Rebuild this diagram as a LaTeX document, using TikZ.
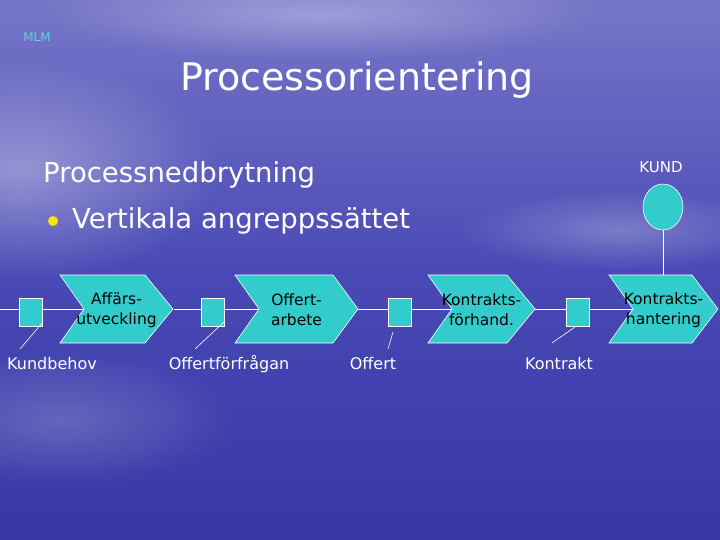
\documentclass[tikz,border=0pt]{standalone}
\usepackage{fontspec}
\setmainfont{DejaVu Sans}
\usetikzlibrary{shapes.geometric,shadings,fadings}
\definecolor{turq}{HTML}{33CCCC}
\definecolor{bgtop}{HTML}{7676C8}
\definecolor{bgmid}{HTML}{4A4AB6}
\definecolor{bgbot}{HTML}{3636A6}
\tikzfading[name=softglow, inner color=transparent!0, outer color=transparent!100]
\tikzset{
  chev/.style={draw=white, line width=0.6pt, fill=turq},
  evbox/.style={draw=white, line width=0.6pt, fill=turq, minimum width=23pt, minimum height=28pt, inner sep=0pt},
  conn/.style={draw=white, line width=0.6pt},
  chevtext/.style={font=\fontsize{15.5}{20}\selectfont, text=black, align=center},
  evlabel/.style={font=\fontsize{16}{19}\selectfont, text=white},
  cloud/.style={fill=white, path fading=softglow},
}
\begin{document}
\begin{tikzpicture}[x=1pt,y=-1pt]
\useasboundingbox (0,0) rectangle (720,540);
% background
\shade[top color=bgtop, bottom color=bgbot, middle color=bgmid] (0,0) rectangle (720,540);
\fill[cloud, opacity=0.35] (20,170) ellipse (200 and 110);
\fill[cloud, opacity=0.30] (320,15) ellipse (280 and 45);
\fill[cloud, opacity=0.25] (620,230) ellipse (160 and 40);
\fill[cloud, opacity=0.20] (60,420) ellipse (180 and 70);
% texts
\node[font=\fontsize{12}{14}\selectfont, text=turq!80!white] (mlm) at (37,37) {MLM};
\node[font=\fontsize{38}{44}\selectfont, text=white] (title) at (357,80) {Processorientering};
\node[font=\fontsize{27.5}{32}\selectfont, text=white, anchor=west, inner sep=0pt] (pn) at (43,175) {Processnedbrytning};
\fill[yellow!85!orange] (53,221) circle (5);
\node[font=\fontsize{27.5}{32}\selectfont, text=white, anchor=west, inner sep=0pt] (va) at (72,221) {Vertikala angreppssättet};
\node[font=\fontsize{15}{17}\selectfont, text=white] (kundt) at (661,167) {KUND};
\node[ellipse, draw=white, line width=0.6pt, fill=turq, minimum width=40pt, minimum height=46pt, inner sep=0pt] (kund) at (663,207) {};
% chevrons
\newcommand{\mychev}[5]{% name, left, topright, tip, text
  \draw[chev] (#2,275) -- (#3,275) -- (#4,309) -- (#3,343) -- (#2,343) -- (#2+24,309) -- cycle;
  \coordinate (#1in) at (#2+24,309);
  \coordinate (#1out) at (#4,309);
  \coordinate (#1top) at ({(#2+#3)/2},275);
  \node[chevtext] (#1t) at ({(#2+#4)/2},310) {#5};
}
\coordinate (start) at (0,309);
\node[evbox] (e1) at (30.5,312) {};
\node[evbox] (e2) at (212.5,312) {};
\node[evbox] (e3) at (400,312) {};
\node[evbox] (e4) at (578,312) {};
\draw[conn] (start) -- (e1.west |- start);
\draw[conn] (e1.east |- start) -- (85,309);
\draw[conn] (174,309) -- (e2.west |- start);
\draw[conn] (e2.east |- start) -- (260,309);
\draw[conn] (358,309) -- (e3.west |- start);
\draw[conn] (e3.east |- start) -- (452,309);
\draw[conn] (535,309) -- (e4.west |- start);
\draw[conn] (e4.east |- start) -- (633,309);
\mychev{c1}{60}{145}{173}{Affärs-\\utveckling}
\mychev{c2}{235}{333}{358}{Offert-\\arbete}
\mychev{c3}{428}{507}{535}{Kontrakts-\\förhand.}
\mychev{c4}{609}{692}{718}{Kontrakts-\\hantering}
\draw[conn] (kund.south) -- (kund.south |- c4top);
% event labels
\node[evlabel] (l1) at (52,364) {Kundbehov};
\node[evlabel] (l2) at (229,364) {Offertförfrågan};
\node[evlabel] (l3) at (373,364) {Offert};
\node[evlabel] (l4) at (559,364) {Kontrakt};
\coordinate (d1) at (20,349);
\coordinate (d2) at (195,349);
\coordinate (d3) at (388,349);
\coordinate (d4) at (552,343);
\draw[conn] (43,322) -- (d1);
\draw[conn] (224,322) -- (d2);
\draw[conn] (393,332) -- (d3);
\draw[conn] (575,327) -- (d4);
\end{tikzpicture}
\end{document}
